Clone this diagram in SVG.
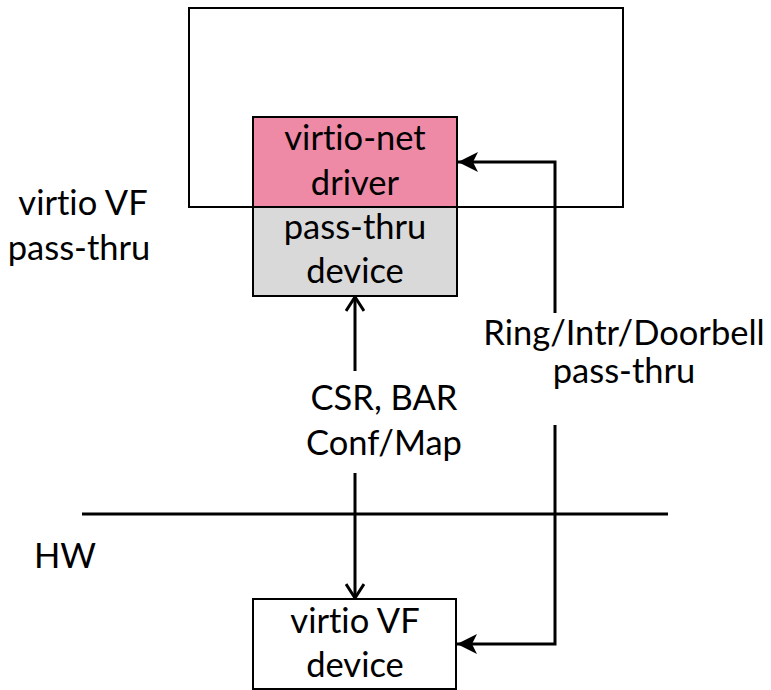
<svg xmlns="http://www.w3.org/2000/svg" width="771" height="690" viewBox="0 0 771 690">
  <style>
    .box { stroke: #000; stroke-width: 2; }
    .lbl { font-family: Lato, "Liberation Sans", sans-serif; font-size: 34.5px; fill: #000; text-anchor: middle; font-variant-ligatures: none; }
    .wire { fill: none; stroke: #000; stroke-width: 3; }
  </style>
  <defs>
    <marker id="solid" viewBox="0 0 20 20" refX="20" refY="10" markerWidth="20" markerHeight="20" markerUnits="userSpaceOnUse" orient="auto">
      <path d="M0,0 L20,10 L0,20 L5,10 Z" fill="#000"/>
    </marker>
    <marker id="open" viewBox="0 0 20 20" refX="18" refY="10" markerWidth="20" markerHeight="20" markerUnits="userSpaceOnUse" orient="auto">
      <path d="M4,1 L18,10 L4,19" fill="none" stroke="#000" stroke-width="3"/>
    </marker>
  </defs>
  <rect width="771" height="690" fill="#fff"/>

  <!-- guest frame -->
  <g id="guest">
    <rect class="box" x="189" y="8" width="434" height="199" fill="#fff"/>
  </g>

  <!-- HW boundary -->
  <g id="hw-line">
    <line x1="82" y1="514" x2="668" y2="514" stroke="#000" stroke-width="3"/>
  </g>

  <g id="driver">
    <rect class="box" x="253" y="117" width="204" height="90" fill="#ee8aa6"/>
    <text class="lbl" x="355" y="150">virtio-net</text>
    <text class="lbl" x="355" y="195">driver</text>
  </g>

  <g id="passthru-dev">
    <rect class="box" x="253" y="207" width="204" height="89" fill="#d9d9d9"/>
    <text class="lbl" x="355" y="239">pass-thru</text>
    <text class="lbl" x="355" y="283">device</text>
  </g>

  <g id="vf-device">
    <rect class="box" x="253" y="599" width="203" height="90" fill="#fff"/>
    <text class="lbl" x="355" y="633">virtio VF</text>
    <text class="lbl" x="355" y="677">device</text>
  </g>

  <g id="side-labels">
    <text class="lbl" x="83" y="215">virtio VF</text>
    <text class="lbl" x="79" y="260">pass-thru</text>
    <text class="lbl" x="65" y="568">HW</text>
  </g>

  <g id="connectors">
    <!-- config path -->
    <path class="wire" d="M355,371 L355,297" marker-end="url(#open)"/>
    <path class="wire" d="M355,473 L355,598" marker-end="url(#open)"/>
    <!-- data path -->
    <path class="wire" d="M555,313 L555,162 L458,162" marker-end="url(#solid)"/>
    <path class="wire" d="M555,425 L555,644 L457,644" marker-end="url(#solid)"/>
    <text class="lbl" x="384" y="410">CSR, BAR</text>
    <text class="lbl" x="384" y="455">Conf/Map</text>
    <text class="lbl" x="624" y="345">Ring/Intr/Doorbell</text>
    <text class="lbl" x="624" y="383">pass-thru</text>
  </g>
</svg>
